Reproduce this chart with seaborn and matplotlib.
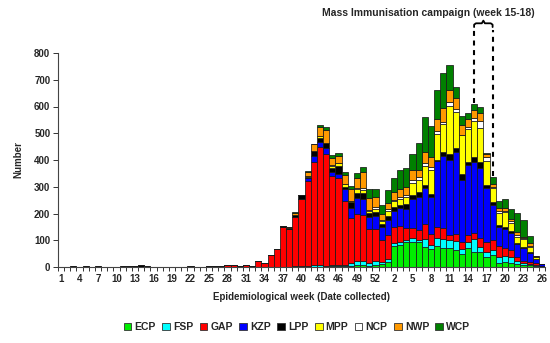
import numpy as np
import pandas as pd
import seaborn as sns
import matplotlib
matplotlib.use("Agg")
import matplotlib.pyplot as plt
from matplotlib.patches import Patch

# ---------------- data ----------------
weeks_year1 = list(range(1, 54))
weeks_year2 = list(range(1, 27))
week_labels = [str(w) for w in weeks_year1 + weeks_year2]

regions = ["ECP", "FSP", "GAP", "KZP", "LPP", "MPP", "NCP", "NWP", "WCP"]
colors = ["#00EE00", "#00FFFF", "#FF0000", "#0000FF", "#000000",
          "#FFFF00", "#FFFFFF", "#FF9900", "#008000"]

ECP = [0, 0, 0, 0, 0, 0, 0, 0, 0, 0, 0, 0, 0, 0, 0, 0, 0, 0, 0, 0,
       0, 0, 0, 0, 0, 0, 0, 0, 0, 0, 0, 0, 0, 0, 0, 0, 0, 0, 0, 0,
       1, 1, 1, 1, 2, 2, 2, 3, 9, 9, 4, 7, 12,
       20, 80, 82, 92, 95, 92, 76, 67, 80, 72, 70, 64, 47, 70, 57, 57,
       37, 45, 15, 20, 16, 12, 8, 6, 3, 2]
FSP = [0, 0, 0, 0, 0, 0, 0, 0, 0, 0, 0, 0, 0, 0, 0, 0, 0, 0, 0, 0,
       0, 0, 0, 0, 0, 0, 0, 0, 0, 0, 0, 0, 0, 0, 0, 0,
       1, 0, 5, 2, 3, 5, 6, 3, 4, 6, 5, 12, 15, 12, 10, 15, 8,
       10, 9, 10, 9, 12, 9, 29, 15, 30, 32, 31, 34, 22, 22, 47, 19,
       20, 19, 22, 20, 22, 12, 8, 6, 3, 0]
GAP = [0, 0, 0, 0, 0, 0, 0, 0, 0, 0, 0, 0, 2, 1, 0, 0, 0, 0, 0, 0,
       0, 0, 0, 0, 2, 5, 3, 6, 8, 3, 8, 5, 24, 15, 44, 66, 150, 143, 183, 252,
       318, 385, 440, 417, 333, 325, 240, 170, 173, 174, 128, 120, 80,
       90, 59, 62, 44, 37, 37, 55, 40, 41, 40, 19, 25, 25, 27, 24, 34,
       35, 37, 42, 30, 25, 12, 8, 6, 8, 3]
KZP = [0, 0, 0, 0, 0, 0, 0, 0, 0, 0, 0, 0, 0, 0, 0, 0, 0, 0, 0, 0,
       0, 0, 0, 0, 0, 0, 0, 0, 0, 0, 0, 0, 0, 0, 0, 0, 0, 0, 0,
       2, 10, 25, 19, 24, 15, 15, 45, 37, 62, 59, 44, 47, 50,
       55, 60, 67, 72, 110, 125, 135, 141, 245, 272, 280, 307, 230, 262, 265, 259,
       202, 131, 70, 72, 65, 50, 48, 35, 15, 5]
LPP = [0, 0, 0, 0, 0, 0, 0, 0, 0, 0, 0, 0, 0, 5, 0, 0, 0, 0, 0, 0,
       0, 0, 0, 0, 0, 0, 0, 0, 0, 0, 0, 0, 0, 0, 0,
       2, 2, 3, 7, 12, 5, 16, 15, 20, 15, 28, 8, 20, 19, 22, 15, 17, 12,
       15, 15, 12, 17, 15, 19, 10, 9, 5, 15, 21, 15, 25, 12, 19, 25,
       12, 12, 9, 9, 5, 5, 3, 2, 2, 0]
MPP = [0, 0, 0, 0, 0, 0, 0, 0, 0, 0, 0, 0, 0, 0, 0, 0, 0, 0, 0, 0,
       0, 0, 0, 0, 0, 0, 0, 0, 0, 0, 0, 0, 0, 0, 0, 0, 0, 0, 0, 0,
       3, 0, 7, 0, 10, 12, 10, 5, 12, 12, 7, 12, 10,
       20, 22, 20, 27, 44, 44, 71, 91, 97, 105, 182, 135, 143, 122, 133, 125,
       90, 50, 45, 55, 30, 20, 30, 20, 8, 0]
NCP = [0, 0, 3, 0, 2, 0, 3, 0, 0, 0, 2, 2, 0, 0, 2, 0, 0, 0, 0, 0,
       0, 3, 0, 0, 0, 0, 0, 0, 0, 0, 0, 0, 0, 0, 0, 0, 0, 0, 0, 0,
       0, 0, 0, 0, 3, 2, 2, 1, 4, 6, 5, 7, 3,
       5, 5, 9, 10, 12, 9, 12, 9, 10, 7, 15, 12, 2, 9, 12, 25,
       16, 5, 5, 5, 10, 8, 5, 5, 0, 0]
NWP = [0, 0, 0, 0, 0, 0, 0, 0, 0, 0, 0, 0, 0, 0, 0, 0, 0, 0, 0, 0,
       0, 0, 0, 0, 0, 0, 0, 0, 0, 0, 0, 0, 0, 0, 0, 0, 0,
       4, 7, 0, 17, 27, 34, 47, 27, 25, 32, 45, 37, 62, 45, 35, 22,
       25, 31, 31, 29, 37, 29, 41, 41, 46, 50, 44, 40, 35, 29, 29, 31,
       12, 12, 12, 10, 8, 10, 3, 8, 2, 0]
WCP = [0, 0, 0, 0, 0, 0, 0, 0, 0, 0, 0, 0, 0, 0, 0, 0, 0, 0, 0, 0,
       0, 0, 0, 0, 0, 0, 0, 0, 0, 0, 0, 0, 0, 0, 0, 0, 0, 0,
       3, 0, 3, 0, 10, 10, 8, 12, 10, 10, 19, 19, 32, 30, 33,
       48, 53, 68, 71, 59, 100, 133, 115, 106, 131, 93, 40, 36, 24, 25, 22,
       3, 25, 25, 34, 35, 74, 62, 28, 0, 0]

series = {"ECP": ECP, "FSP": FSP, "GAP": GAP, "KZP": KZP, "LPP": LPP,
          "MPP": MPP, "NCP": NCP, "NWP": NWP, "WCP": WCP}

campaign_start_label = "15"   # week 15 of second year
campaign_end_label = "18"

# ---------------- tidy table ----------------
rows = []
for reg in regions:
    for pos, val in enumerate(series[reg]):
        rows.append({"pos": pos, "region": reg, "count": val})
df = pd.DataFrame(rows)
totals = df.groupby("pos")["count"].sum()

# ---------------- style ----------------
sns.set_theme(style="ticks")
plt.rcParams["font.family"] = ["Liberation Sans", "DejaVu Sans"]
plt.rcParams["font.weight"] = "bold"

fig = plt.figure(figsize=(5.5, 3.43), dpi=100)
ax = fig.add_axes([58 / 550, 1 - 267 / 343, 487 / 550, 214 / 343])

palette = dict(zip(regions, colors))
sns.histplot(data=df, x="pos", weights="count", hue="region",
             hue_order=regions[::-1], palette=palette, multiple="stack",
             discrete=True, shrink=1, alpha=1, edgecolor="#1a1a1a",
             linewidth=0.55, legend=False, ax=ax)

n = len(week_labels)
ax.set_xlim(-0.5, n - 0.5)
ax.set_ylim(0, 800)
ax.set_yticks(np.arange(0, 801, 100))
ax.set_yticklabels([str(v) for v in range(0, 801, 100)], fontsize=7, fontweight="bold")
ax.set_xticks(np.arange(0, n, 3))
ax.set_xticklabels(week_labels[::3], fontsize=7, fontweight="bold")
ax.set_xticks(np.arange(-0.5, n, 1), minor=True)
ax.tick_params(axis="x", which="major", length=0, pad=5)
ax.tick_params(axis="x", which="minor", length=3, width=0.7, direction="out", color="#333333")
ax.tick_params(axis="y", length=3.5, width=0.7, color="#333333", pad=2)
for s in ["top", "right"]:
    ax.spines[s].set_visible(False)
for s in ["left", "bottom"]:
    ax.spines[s].set_color("#444444")
    ax.spines[s].set_linewidth(0.8)

ax.set_xlabel("Epidemiological week (Date collected)", fontsize=7, fontweight="bold", labelpad=6)
ax.set_ylabel("Number", fontsize=7, fontweight="bold", labelpad=8)

# ---------------- campaign bracket ----------------
i_start = 53 + weeks_year2.index(int(campaign_start_label))
i_end = 53 + weeks_year2.index(int(campaign_end_label))
y_top = 885
dash = (0, (2.4, 2.2))
ax.plot([i_start, i_start], [totals[i_start] + 3, y_top], color="black", lw=1.5,
        linestyle=dash, clip_on=False)
ax.plot([i_end, i_end], [totals[i_end] + 3, y_top], color="black", lw=1.5,
        linestyle=dash, clip_on=False)
mid = (i_start + i_end) / 2
bx = [i_start, i_start, i_start + 0.3, mid - 0.25, mid, mid + 0.25, i_end - 0.3, i_end, i_end]
by = [897, 906, 911, 911, 921, 911, 911, 906, 897]
ax.plot(bx, by, color="black", lw=1.3, clip_on=False, solid_joinstyle="round")

fig.text(428 / 550, 1 - 12.5 / 343, "Mass Immunisation campaign (week 15-18)",
         ha="center", va="center", fontsize=7.5, fontweight="bold")

# ---------------- legend ----------------
handles = [Patch(facecolor=c, edgecolor="#333333", linewidth=0.6) for c in colors]
fig.legend(handles, regions, loc="center", bbox_to_anchor=(297 / 550, 1 - 327 / 343),
           ncol=9, frameon=False, prop={"size": 7.5, "weight": "bold"},
           handlelength=0.75, handleheight=0.75, handletextpad=0.3,
           columnspacing=0.6, borderaxespad=0)

fig.savefig("out.png", dpi=100)
